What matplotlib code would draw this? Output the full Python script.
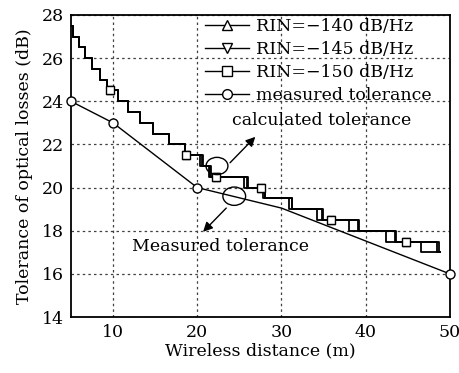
import numpy as np
import matplotlib
matplotlib.use("Agg")
import matplotlib.pyplot as plt
from matplotlib.patches import Ellipse
from matplotlib.lines import Line2D

# staircase levels (dB) and the distances (m) where each curve drops one step
levels = [27.5, 27.0, 26.5, 26.0, 25.5, 25.0, 24.5, 24.0, 23.5, 23.0, 22.5,
          22.0, 21.5, 21.0, 20.5, 20.0, 19.5, 19.0, 18.5, 18.0, 17.5, 17.0]
steps_140 = [5.3, 6.0, 6.7, 7.5, 8.5, 9.3, 10.6, 11.8, 13.2, 14.8, 16.6,
             18.5, 20.3, 21.4, 25.6, 27.8, 30.9, 34.2, 38.0, 42.4, 46.6]
steps_145 = [5.3, 6.0, 6.7, 7.5, 8.5, 9.3, 10.6, 11.8, 13.2, 14.8, 16.6,
             18.5, 20.6, 21.5, 25.9, 28.0, 31.2, 34.8, 39.1, 43.5, 48.5]
steps_150 = [5.3, 6.0, 6.7, 7.5, 8.5, 9.3, 10.6, 11.8, 13.2, 14.8, 16.6,
             18.5, 20.7, 21.6, 26.0, 28.1, 31.3, 34.9, 39.2, 43.6, 48.7]
x_start, x_end = 5.0, 48.8
marker_x = [9.6, 18.7, 22.2, 27.6, 35.9, 44.8]

# measured tolerance
meas_x = [5, 10, 20, 30, 50]
meas_y = [24.0, 23.0, 20.0, 19.05, 16.0]
meas_marks = [0, 1, 2, 4]

plt.rcParams['font.family'] = ['DejaVu Serif']
plt.rcParams['font.size'] = 12.5
plt.rcParams['mathtext.fontset'] = 'dejavuserif'

fig = plt.figure(figsize=(4.6, 3.73), dpi=100)
ax = fig.add_axes([0.154, 0.150, 0.824, 0.810])


def step_curve(steps):
    xs = [x_start] + steps + [x_end]
    ys = levels + [levels[-1]]
    return np.array(xs), np.array(ys)


def level_at(steps, x):
    i = np.searchsorted(steps, x)
    return levels[i]


curves = [(steps_140, '^', 'RIN=−140 dB/Hz'),
          (steps_145, 'v', 'RIN=−145 dB/Hz'),
          (steps_150, 's', 'RIN=−150 dB/Hz')]
handles = []
for steps, mk, lab in curves:
    xs, ys = step_curve(steps)
    ax.plot(xs, ys, drawstyle='steps-post', color='black', lw=1.3, zorder=3)
    my = [level_at(steps, x) for x in marker_x]
    ax.plot(marker_x, my, ls='none', marker=mk, ms=6, mfc='white',
            mec='black', mew=1.0, zorder=4)
    handles.append(Line2D([], [], color='black', lw=1.0, marker=mk, ms=7,
                          mfc='white', mec='black', mew=1.0, label=lab))

ax.plot(meas_x, meas_y, color='black', lw=1.0, marker='o', ms=6.5,
        mfc='white', mec='black', mew=1.0, markevery=meas_marks,
        clip_on=False, zorder=5)
handles.append(Line2D([], [], color='black', lw=1.0, marker='o', ms=7,
                      mfc='white', mec='black', mew=1.0,
                      label='measured tolerance'))

# ellipses and arrows
ax.add_patch(Ellipse((22.35, 21.0), 2.6, 0.8, fill=False, ec='black',
                     lw=1.0, zorder=6))
ax.add_patch(Ellipse((24.4, 19.6), 2.7, 0.85, fill=False, ec='black',
                     lw=1.0, zorder=6))
ax.annotate('', xy=(26.9, 22.35), xytext=(23.9, 21.15),
            arrowprops=dict(arrowstyle='-|>', color='black', lw=1.0,
                            mutation_scale=14, shrinkA=0, shrinkB=0))
ax.annotate('', xy=(20.7, 17.95), xytext=(23.45, 19.05),
            arrowprops=dict(arrowstyle='-|>', color='black', lw=1.0,
                            mutation_scale=14, shrinkA=0, shrinkB=0))
ax.text(34.8, 23.1, 'calculated tolerance', ha='center', va='center')
ax.text(22.8, 17.25, 'Measured tolerance', ha='center', va='center')

ax.set_xlim(5, 50)
ax.set_ylim(14, 28)
ax.set_xticks([10, 20, 30, 40, 50])
ax.set_yticks([14, 16, 18, 20, 22, 24, 26, 28])
ax.tick_params(direction='in', length=0, pad=5)
ax.grid(True, color='0.25', ls=(0, (2, 2.5)), lw=0.9)
for sp in ax.spines.values():
    sp.set_linewidth(1.3)

ax.set_xlabel('Wireless distance (m)', labelpad=1)
ax.set_ylabel('Tolerance of optical losses (dB)', labelpad=6)

ax.legend(handles=handles, loc='upper left', bbox_to_anchor=(0.355, 0.99),
          frameon=False, handlelength=2.5, handletextpad=0.4,
          labelspacing=0.35, borderaxespad=0, borderpad=0)

fig.savefig('out.png', dpi=100)
